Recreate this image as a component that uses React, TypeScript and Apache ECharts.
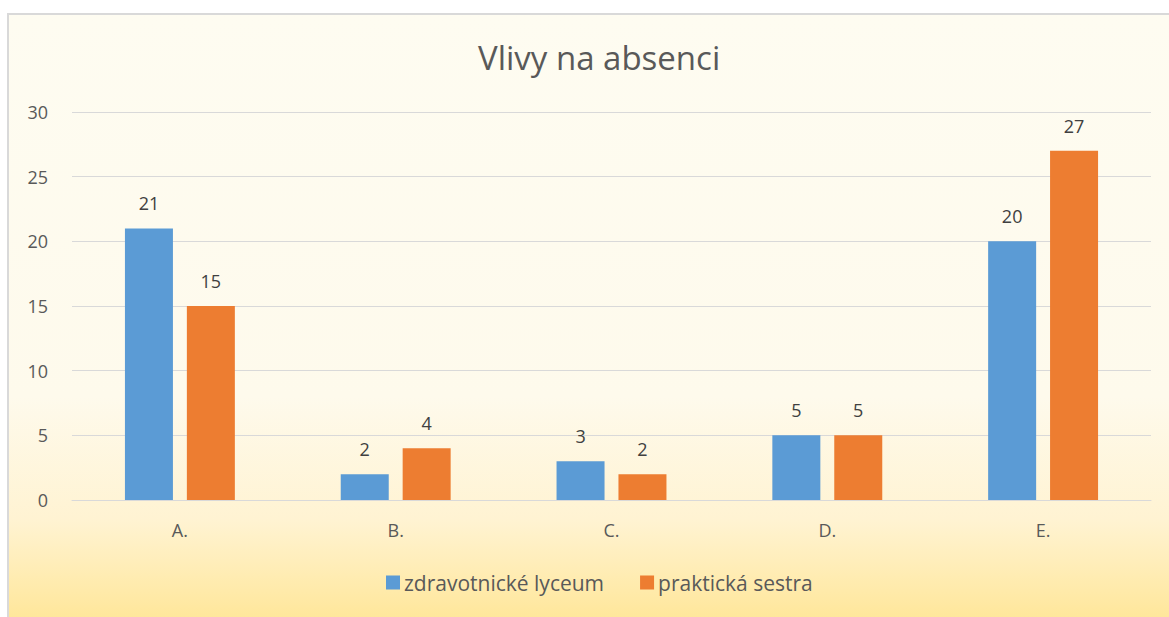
import React, { useEffect, useRef } from "react";
import * as echarts from "echarts";

const title = "Vlivy na absenci";
const categories = ["A.", "B.", "C.", "D.", "E."];
const seriesNames = ["zdravotnické lyceum", "praktická sestra"];
const lyceum = [21, 2, 3, 5, 20];
const sestra = [15, 4, 2, 5, 27];
const yTicks = { min: 0, max: 30, interval: 5 };

const FONT = "'Open Sans', 'Noto Sans', sans-serif";

export default function App() {
  const ref = useRef<HTMLDivElement>(null);
  useEffect(() => {
    if (!ref.current) return;
    const chart = echarts.init(ref.current, null, { renderer: "svg" });
    const label = {
      show: true,
      position: "top",
      distance: 16,
      color: "#404040",
      fontSize: 18,
      fontFamily: FONT,
    };
    chart.setOption({
      animation: false,
      backgroundColor: "transparent",
      textStyle: { fontFamily: FONT },
      title: {
        text: title,
        left: 473,
        top: 36,
        textStyle: { color: "#595959", fontSize: 33, fontWeight: "normal", fontFamily: FONT },
      },
      legend: {
        data: seriesNames,
        bottom: 19,
        left: 381,
        itemWidth: 14,
        itemHeight: 14,
        itemGap: 36,
        icon: "rect",
        textStyle: { color: "#595959", fontSize: 21, fontFamily: FONT, padding: [0, 0, 0, -1] },
      },
      grid: { left: 72, right: 18, top: 112, bottom: 117, containLabel: false },
      xAxis: {
        type: "category",
        data: categories,
        axisLine: { lineStyle: { color: "#D9D9D9", width: 1 } },
        axisTick: { show: false },
        axisLabel: { color: "#595959", fontSize: 18, margin: 21, fontFamily: FONT },
      },
      yAxis: {
        type: "value",
        min: yTicks.min,
        max: yTicks.max,
        interval: yTicks.interval,
        axisLine: { show: false },
        axisTick: { show: false },
        splitLine: { lineStyle: { color: "#D9D9D9", width: 1 } },
        axisLabel: { color: "#595959", fontSize: 18, margin: 24, fontFamily: FONT },
      },
      series: [
        {
          name: seriesNames[0],
          type: "bar",
          data: lyceum,
          barWidth: 48,
          barGap: "29%",
          itemStyle: { color: "#5B9BD5" },
          label,
        },
        {
          name: seriesNames[1],
          type: "bar",
          data: sestra,
          barWidth: 48,
          itemStyle: { color: "#ED7D31" },
          label,
        },
      ],
    });
    return () => chart.dispose();
  }, []);

  return (
    <div style={{ position: "fixed", left: 0, top: 0, width: 1169, height: 617, overflow: "hidden", background: "#fff" }}>
      <div
        style={{
          position: "absolute",
          left: 7,
          top: 13,
          width: 1180,
          height: 620,
          boxSizing: "border-box",
          border: "2px solid #D9D9D9",
          background: "linear-gradient(to bottom, #FEFCF1 0%, #FEFAEC 62%, #FFF3D2 82%, #FFE593 100%)",
        }}
      />
      <div ref={ref} style={{ position: "absolute", left: 0, top: 0, width: 1169, height: 617 }} />
    </div>
  );
}
